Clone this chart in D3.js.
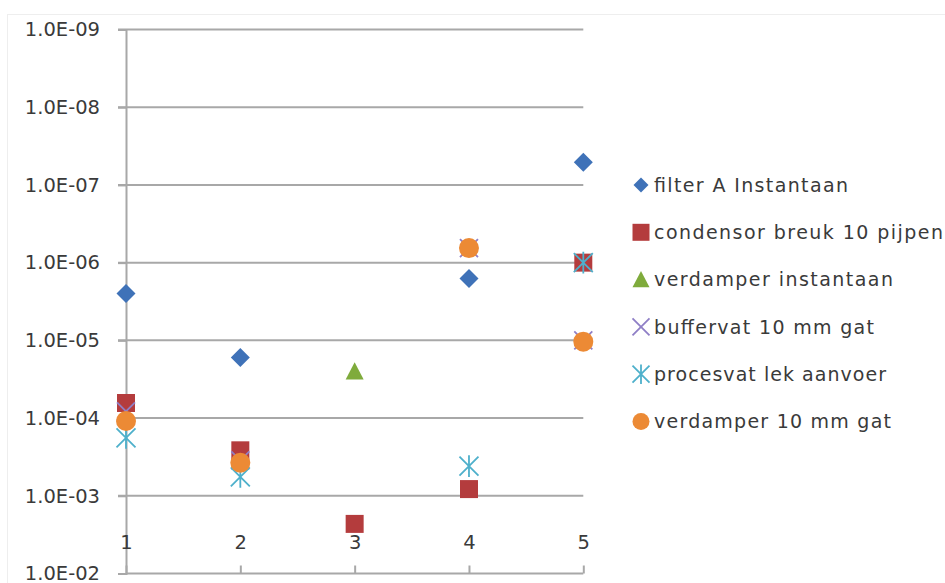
<!DOCTYPE html>
<html>
<head>
<meta charset="utf-8">
<script src="https://cdn.jsdelivr.net/npm/d3@7"></script>
<style>
  html, body { margin: 0; padding: 0; background: #ffffff; }
  svg { display: block; }
  text { font-family: "DejaVu Sans", Verdana, sans-serif; fill: #3a3a3a; }
</style>
</head>
<body>
<svg id="chart" width="945" height="583"></svg>
<script>
// Scenario numbers on the x axis
const categories = [1, 2, 3, 4, 5];

// Frequencies per scenario (null = no value)
const filterA      = [2.5e-6, 1.66e-5, null, 1.6e-6, 5.1e-8];
const condensor    = [6.4e-5, 2.6e-4, 2.3e-3, 8.2e-4, 1.0e-6];
const verdamperIn  = [null, null, 2.5e-5, null, null];
const buffervat    = [8.2e-5, 3.5e-4, null, 6.5e-7, 1.0e-5];
const procesvat    = [1.8e-4, 5.7e-4, null, 4.15e-4, 1.0e-6];
const verdamper10  = [1.09e-4, 3.76e-4, null, 6.5e-7, 1.04e-5];

const seriesNames = [
  "filter A Instantaan",
  "condensor breuk 10 pijpen",
  "verdamper instantaan",
  "buffervat 10 mm gat",
  "procesvat lek aanvoer",
  "verdamper 10 mm gat"
];

const yTickValues = [1e-9, 1e-8, 1e-7, 1e-6, 1e-5, 1e-4, 1e-3, 1e-2];
const yTickLabels = ["1.0E-09", "1.0E-08", "1.0E-07", "1.0E-06", "1.0E-05", "1.0E-04", "1.0E-03", "1.0E-02"];

// Marker shapes, centred on (0,0)
const shapes = {
  diamond: s => `M0,${-s}L${s},0L0,${s}L${-s},0Z`,
  square: s => `M${-s},${-s}H${s}V${s}H${-s}Z`,
  triangle: s => `M0,${-s}L${s * 1.0},${s * 0.9}L${-s * 1.0},${s * 0.9}Z`,
  cross: s => `M${-s},${-s}L${s},${s}M${s},${-s}L${-s},${s}`,
  star: s => `M${-s},${-s}L${s},${s}M${s},${-s}L${-s},${s}M0,${-s * 1.15}V${s * 1.15}`,
  circle: s => `M${s},0A${s},${s} 0 1,1 ${-s},0A${s},${s} 0 1,1 ${s},0Z`
};

const series = [
  { name: seriesNames[0], values: filterA,     shape: "diamond",  size: 9.5, legendSize: 7.5, fill: "#3f72b8", stroke: null },
  { name: seriesNames[1], values: condensor,   shape: "square",   size: 9,   legendSize: 8.5, fill: "#b43c3d", stroke: null },
  { name: seriesNames[2], values: verdamperIn, shape: "triangle", size: 9,   legendSize: 8.5, fill: "#7fab3c", stroke: null },
  { name: seriesNames[3], values: buffervat,   shape: "cross",    size: 9,   legendSize: 8.5, fill: "none",    stroke: "#8f7fc6" },
  { name: seriesNames[4], values: procesvat,   shape: "star",     size: 9.5, legendSize: 8.5, fill: "none",    stroke: "#4eb0cb" },
  { name: seriesNames[5], values: verdamper10, shape: "circle",   size: 10,  legendSize: 8.5, fill: "#ec8a35", stroke: null }
];

const svg = d3.select("#chart");

const x = d3.scaleLinear().domain([1, 5]).range([126, 583.3]);
const y = d3.scaleLog().domain([1e-9, 1e-2]).range([29.5, 573.5]);

// faint outer chart frame
svg.append("rect")
  .attr("x", 7.5).attr("y", 14.5).attr("width", 960).attr("height", 600)
  .attr("fill", "none").attr("stroke", "#eeeeee");

const gridColor = "#a8a8a8";

// horizontal gridlines, with tick stubs left of the axis
svg.append("g")
  .selectAll("line")
  .data(yTickValues.slice(0, -1))
  .join("line")
  .attr("x1", 118).attr("x2", x(5))
  .attr("y1", d => y(d)).attr("y2", d => y(d))
  .attr("stroke", gridColor).attr("stroke-width", 2);

// y axis with labels
const yAxis = d3.axisLeft(y)
  .tickValues(yTickValues)
  .tickFormat((d, i) => yTickLabels[i])
  .tickSize(8)
  .tickPadding(18);
const gy = svg.append("g").attr("transform", "translate(126,0)").call(yAxis);
gy.select(".domain").attr("stroke", gridColor).attr("stroke-width", 2);
gy.selectAll(".tick line").attr("stroke", gridColor).attr("stroke-width", 2);
gy.selectAll(".tick text")
  .style("font-size", "19.5px")
  .attr("fill", "#3a3a3a");

// x axis at the bottom, ticks pointing up, labels above the ticks
const xAxis = d3.axisTop(x)
  .tickValues(categories)
  .tickFormat(d3.format("d"))
  .tickSize(8)
  .tickPadding(17);
const gx = svg.append("g").attr("transform", `translate(0,${y(1e-2)})`).call(xAxis);
gx.select(".domain").attr("stroke", gridColor).attr("stroke-width", 2)
  .attr("d", `M${x(1)},0H${x(5)}`);
gx.selectAll(".tick line").attr("stroke", gridColor).attr("stroke-width", 2);
gx.selectAll(".tick text")
  .style("font-size", "19.5px")
  .attr("fill", "#3a3a3a");

// data markers, drawn series by series
const plot = svg.append("g");
series.forEach(s => {
  const pts = categories
    .map((c, i) => ({ c, v: s.values[i] }))
    .filter(p => p.v != null);
  plot.append("g")
    .selectAll("path")
    .data(pts)
    .join("path")
    .attr("transform", p => `translate(${x(p.c)},${y(p.v)})`)
    .attr("d", shapes[s.shape](s.size))
    .attr("fill", s.fill)
    .attr("stroke", s.stroke || "none")
    .attr("stroke-width", s.stroke ? 1.8 : 0);
});

// legend
const legend = svg.append("g");
const legendWidths = [194, 289, 239, 220, 232, 237];
series.forEach((s, i) => {
  const cy = 185 + i * 47.3;
  legend.append("path")
    .attr("transform", `translate(641,${cy})`)
    .attr("d", shapes[s.shape](s.legendSize))
    .attr("fill", s.fill)
    .attr("stroke", s.stroke || "none")
    .attr("stroke-width", s.stroke ? 1.8 : 0);
  legend.append("text")
    .attr("x", 654)
    .attr("y", cy)
    .attr("dy", "0.36em")
    .attr("textLength", legendWidths[i])
    .attr("lengthAdjust", "spacing")
    .style("font-size", "19px")
    .text(s.name);
});
</script>
</body>
</html>
